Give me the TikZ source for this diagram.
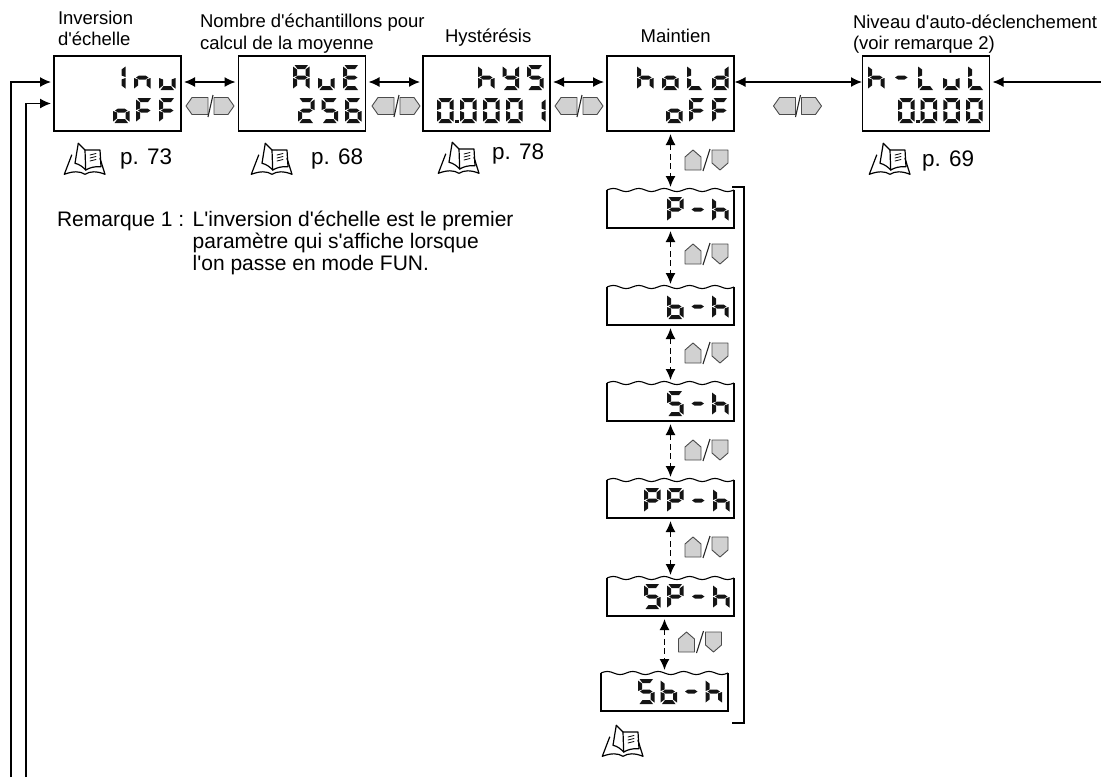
\documentclass[tikz,border=0pt]{standalone}
\usepackage{fontspec}
\setmainfont[Ligatures=TeXOff]{Liberation Sans}
\usetikzlibrary{arrows.meta, positioning}

% Segmentos do mostrador (celula 16.5 x 25)
\newcommand{\sega}{(1.5,0) -- (15,0) -- (12,4) -- (4.5,4) -- cycle}
\newcommand{\segb}{(16.5,1.5) -- (12.5,4.5) -- (12.5,10.5) -- (16.5,12) -- cycle}
\newcommand{\segc}{(16.5,13) -- (12.5,14.5) -- (12.5,20.5) -- (16.5,23.5) -- cycle}
\newcommand{\segd}{(1.5,25) -- (15,25) -- (12,21) -- (4.5,21) -- cycle}
\newcommand{\sege}{(0,13) -- (4,14.5) -- (4,20.5) -- (0,23.5) -- cycle}
\newcommand{\segf}{(0,1.5) -- (4,4.5) -- (4,10.5) -- (0,12) -- cycle}
\newcommand{\segg}{(2,12.5) -- (5,10.5) -- (11.5,10.5) -- (14.5,12.5) -- (11.5,14.5) -- (5,14.5) -- cycle}
\newcommand{\segp}{(18,21.5) rectangle (21.5,25)}

% Caracteres do mostrador; Z e o zero seguido do ponto decimal
\expandafter\def\csname glyph0\endcsname{a,b,c,d,e,f}
\expandafter\def\csname glyph1\endcsname{b,c}
\expandafter\def\csname glyph2\endcsname{a,b,g,e,d}
\expandafter\def\csname glyph5\endcsname{a,f,g,c,d}
\expandafter\def\csname glyph6\endcsname{a,f,g,e,c,d}
\expandafter\def\csname glyph-\endcsname{g}
\expandafter\def\csname glyphA\endcsname{a,b,c,e,f,g}
\expandafter\def\csname glyphE\endcsname{a,f,g,e,d}
\expandafter\def\csname glyphF\endcsname{a,f,g,e}
\expandafter\def\csname glyphI\endcsname{b,c}
\expandafter\def\csname glyphL\endcsname{f,e,d}
\expandafter\def\csname glyphP\endcsname{a,b,f,g,e}
\expandafter\def\csname glyphS\endcsname{a,f,g,c,d}
\expandafter\def\csname glyphZ\endcsname{a,b,c,d,e,f,p}
\expandafter\def\csname glyphb\endcsname{f,e,g,c,d}
\expandafter\def\csname glyphd\endcsname{b,c,g,e,d}
\expandafter\def\csname glyphh\endcsname{f,e,g,c}
\expandafter\def\csname glyphn\endcsname{e,g,c}
\expandafter\def\csname glypho\endcsname{e,g,c,d}
\expandafter\def\csname glyphv\endcsname{e,d,c}
\expandafter\def\csname glyphy\endcsname{f,b,g,c,d}

% \lcdrow{x}{y}{passo}{caracteres}
\newcommand{\lcdrow}[4]{%
    \foreach \glyphname [count=\glyphidx from 0] in {#4} {
        \begin{scope}[shift={(#1+\glyphidx*#3,#2)}]
            \edef\seglist{\csname glyph\glyphname\endcsname}
            \foreach \segname in \seglist {
                \fill [lcdseg] \csname seg\segname\endcsname;
            }
        \end{scope}
    }
}

\tikzset{
    keyh/.pic={
        \draw [keyface] (-24,0) -- (-18,-8.5) -- (-2,-8.5) -- (-2,8.5) -- (-18,8.5) -- cycle;
        \draw [keyface] (24,0) -- (18,-8.5) -- (4,-8.5) -- (4,8.5) -- (18,8.5) -- cycle;
        \draw [keyline] (-2,11) -- (3,-11);
    },
    keyv/.pic={
        \draw [keyface] (-13.5,-10) -- (-5.5,-3) -- (-5.5,10) -- (-21.5,10) -- (-21.5,-3) -- cycle;
        \draw [keyface] (13.5,10) -- (5.5,3) -- (5.5,-10) -- (21.5,-10) -- (21.5,3) -- cycle;
        \draw [keyline] (-3.5,11) -- (3.5,-11);
    },
    book/.pic={
        \draw [bookline] (8.7,12) -- (1.3,31.3) .. controls (10,28) and (17,28) .. (22,31.3)
            .. controls (27,28) and (34,28) .. (42,31.3) -- (37,15.3);
        \draw [bookline] (15.3,0.3) .. controls (14,8) and (13,14) .. (12,20.3)
            .. controls (16,21) and (20,24) .. (22.7,27);
        \draw [bookline] (15.3,0.3) -- (22,7) -- (22.7,27);
        \draw [bookline] (22,7) -- (37,7) -- (38,23.7) .. controls (32,23) and (26,25) .. (22.7,27);
        \draw [bookline, line width=0.8pt] (27,12) -- (33,10.5) (27,15) -- (33,13.5) (27,18) -- (33,16.5);
    }
}

\begin{document}
\begin{tikzpicture}[
        x=1pt, y=-1pt,
        lcdbox/.style={rectangle, draw=black, line width=1.5pt, minimum width=127pt, minimum height=75pt, inner sep=0pt, outer sep=0pt},
        wavebox/.style={rectangle, minimum width=127pt, minimum height=38pt, inner sep=0pt, outer sep=0pt},
        boxline/.style={draw=black, line width=1.5pt},
        lcdseg/.style={black!92},
        arrow/.style={{Latex[length=11pt,width=10pt]}-{Latex[length=11pt,width=10pt]}, line width=1.4pt, shorten >=3pt, shorten <=3pt},
        flow/.style={-{Latex[length=11pt,width=10pt]}, line width=1.4pt, shorten >=3pt},
        updown/.style={arrow, dash pattern=on 6pt off 3.5pt},
        keyface/.style={draw=black!70, fill=black!18, line width=0.9pt, line join=round},
        keyline/.style={draw=black!85, line width=1.1pt},
        bookline/.style={draw=black, line width=1.2pt, line join=round, line cap=round},
        lab/.style={font=\fontsize{18.5}{21}\selectfont, inner sep=0pt, outer sep=0pt, anchor=base west},
        remlab/.style={lab, font=\fontsize{21}{22}\selectfont},
        pagelab/.style={font=\fontsize{22.5}{25}\selectfont, inner sep=0pt, outer sep=0pt, anchor=base west}
    ]
    \useasboundingbox (0,0) rectangle (1101,777);

    % Mostradores da linha superior
    \node (inv)  [lcdbox] at (117.5, 93.5) {};
    \node (ave)  [lcdbox] at (302, 93.5)   {};
    \node (hys)  [lcdbox] at (486.5, 93.5) {};
    \node (hold) [lcdbox] at (670.5, 93.5) {};
    \node (hlvl) [lcdbox] at (926, 93.5)   {};

    % Mostradores em coluna, com topo ondulado
    \node (ph)  [wavebox] at (670.5, 209) {};
    \node (bh)  [wavebox] at (670.5, 306) {};
    \node (sh)  [wavebox] at (670.5, 402) {};
    \node (pph) [wavebox] at (670.5, 499) {};
    \node (sph) [wavebox] at (670.5, 597) {};
    \node (sbh) [wavebox] at (664.5, 692) {};
    \foreach \boxname in {ph,bh,sh,pph,sph,sbh} {
        \draw [boxline, line join=miter] (\boxname.north west) -- (\boxname.south west) -- (\boxname.south east) -- (\boxname.north east);
        \draw [boxline, line width=1.1pt] (\boxname.north west) \foreach \k in {1,...,5} { sin ++(6.35,-1.6) cos ++(6.35,1.6) sin ++(6.35,1.6) cos ++(6.35,-1.6) };
    }

    % Textos dos mostradores
    \lcdrow{109}{65}{25}{I,n,v}
    \lcdrow{113}{98}{23}{o,F,F}
    \lcdrow{293}{65}{25}{A,v,E}
    \lcdrow{298}{98}{23.5}{2,5,6}
    \lcdrow{478}{65}{24.5}{h,y,S}
    \lcdrow{437}{98}{23}{Z,0,0,0,1}
    \lcdrow{637}{65}{25}{h,o,L,d}
    \lcdrow{666}{98}{23}{o,F,F}
    \lcdrow{868}{65}{25}{h,-,L,v,L}
    \lcdrow{898}{98}{22.7}{Z,0,0,0}
    \lcdrow{667}{197}{22.5}{P,-,h}
    \lcdrow{667}{294}{22.5}{b,-,h}
    \lcdrow{667}{391}{22.5}{5,-,h}
    \lcdrow{644}{488}{23}{P,P,-,h}
    \lcdrow{644}{584}{23}{5,P,-,h}
    \lcdrow{638}{679}{22.5}{5,b,-,h}

    % Setas horizontais
    \draw [arrow] ([yshift=11.5pt]inv.east)  -- ([yshift=11.5pt]ave.west);
    \draw [arrow] ([yshift=11.5pt]ave.east)  -- ([yshift=11.5pt]hys.west);
    \draw [arrow] ([yshift=11.5pt]hys.east)  -- ([yshift=11.5pt]hold.west);
    \draw [arrow, shorten <=0.5pt, shorten >=0.5pt] ([yshift=11.5pt]hold.east) -- ([yshift=11.5pt]hlvl.west);

    % Retornos
    \coordinate (backa) at (11, 777);
    \coordinate (backb) at (26, 777);
    \coordinate (backc) at (1101, 82);
    \draw [flow] (backa) |- ([yshift=11.5pt]inv.west);
    \draw [flow] (backb) |- ([yshift=-10pt]inv.west);
    \draw [flow] (backc) -- ([yshift=11.5pt]hlvl.east);

    % Setas verticais
    \draw [updown] (hold.south) -- (ph.north);
    \draw [updown] (ph.south)   -- (bh.north);
    \draw [updown] (bh.south)   -- (sh.north);
    \draw [updown] (sh.south)   -- (pph.north);
    \draw [updown] (pph.south)  -- (sph.north);
    \draw [updown] (sph.south -| sbh.south) -- (sbh.north);

    % Colchete
    \coordinate (brtop) at (732, 187);
    \coordinate (brbot) at (732, 723);
    \draw [boxline] (brtop) -- ++(12,0) |- (brbot);

    % Teclas
    \pic at (210, 106) {keyh};
    \pic at (396, 106) {keyh};
    \pic at (579, 106) {keyh};
    \pic at (797.5, 106) {keyh};
    \pic at (706.5, 160) {keyv};
    \pic at (706.5, 254) {keyv};
    \pic at (706.5, 353) {keyv};
    \pic at (706.5, 450) {keyv};
    \pic at (706.5, 547) {keyv};
    \pic at (700, 642) {keyv};

    % Livros
    \pic at (63, 143) {book};
    \pic at (250, 143) {book};
    \pic at (437, 142) {book};
    \pic at (868, 143) {book};
    \pic at (601, 725) {book};

    % Rotulos
    \node (labinv)   [lab] at (58, 24)  {Inversion};
    \node (labinvb)  [lab] at (58, 45)  {d'échelle};
    \node (labave)   [lab] at (200, 27) {Nombre d'échantillons pour};
    \node (labaveb)  [lab] at (200, 49) {calcul de la moyenne};
    \node (labhys)   [lab] at (445, 42) {Hystérésis};
    \node (labhold)  [lab] at (640.7, 42) {Maintien};
    \node (lablvl)   [lab] at (853, 28) {Niveau d'auto-déclenchement};
    \node (lablvlb)  [lab] at (853, 49) {(voir remarque 2)};

    \node (pginv)  [pagelab] at (120, 164) {p. 73};
    \node (pgave)  [pagelab] at (311, 164) {p. 68};
    \node (pghys)  [pagelab] at (492, 159) {p. 78};
    \node (pglvl)  [pagelab] at (922, 166) {p. 69};

    \node (rem)   [remlab] at (57, 226)    {Remarque 1 :};
    \node (remb)  [remlab] at (192.7, 226) {L'inversion d'échelle est le premier};
    \node (remc)  [remlab] at (192.7, 248) {paramètre qui s'affiche lorsque};
    \node (remd)  [remlab] at (192.7, 270) {l'on passe en mode FUN.};

\end{tikzpicture}
\end{document}
